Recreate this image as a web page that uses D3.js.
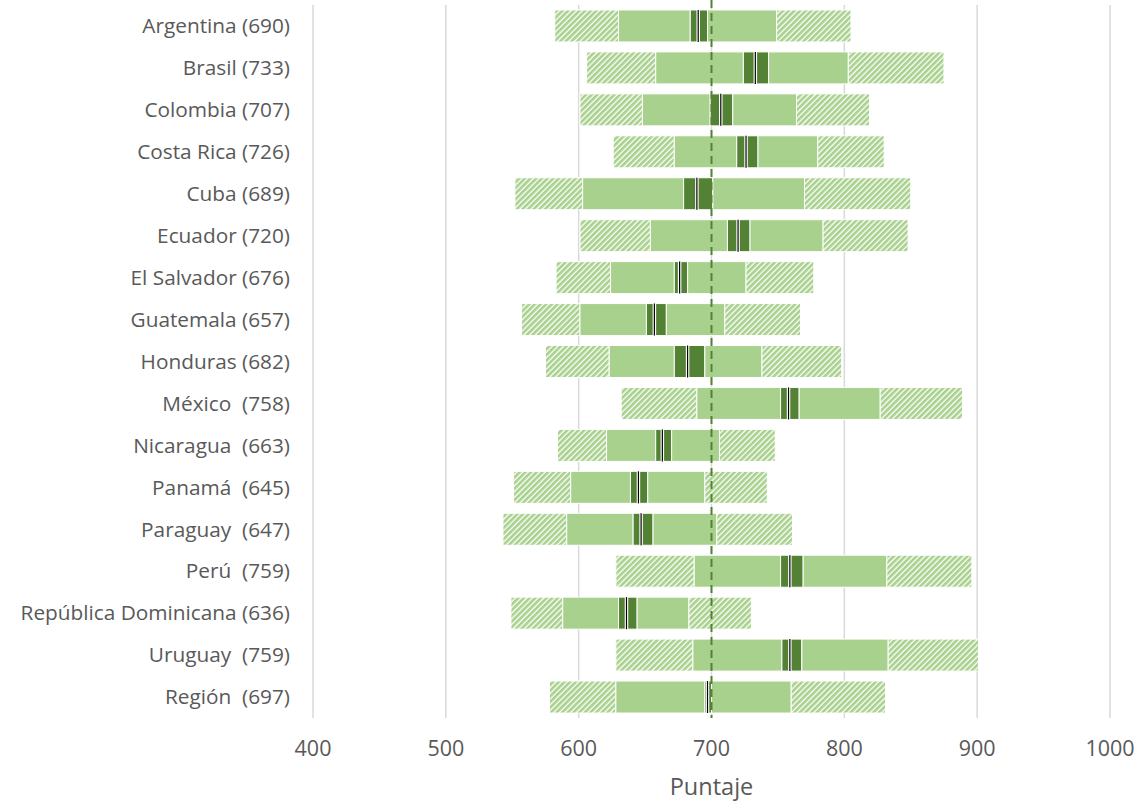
<!DOCTYPE html>
<html>
<head>
<meta charset="utf-8">
<script src="https://cdn.jsdelivr.net/npm/d3@7"></script>
<style>
  html, body { margin: 0; padding: 0; background: #fff; }
  svg { display: block; }
  text { font-family: "Open Sans", "Noto Sans", sans-serif; }
</style>
</head>
<body>
<svg id="chart" width="1138" height="801"></svg>
<script>
const countries = ["Argentina (690)", "Brasil (733)", "Colombia (707)", "Costa Rica (726)", "Cuba (689)",
  "Ecuador (720)", "El Salvador (676)", "Guatemala (657)", "Honduras (682)", "México  (758)",
  "Nicaragua  (663)", "Panamá  (645)", "Paraguay  (647)", "Perú  (759)", "República Dominicana (636)",
  "Uruguay  (759)", "Región  (697)"];
const p10    = [582, 606, 601, 626, 552, 601, 583, 557, 575, 632, 584, 551, 543, 628, 549, 628, 578];
const p25    = [630, 658, 648, 672, 603, 654, 624, 601, 623, 689, 621, 594, 591, 687, 588, 686, 628];
const ciLow  = [684, 724, 699, 719, 679, 712, 672, 651, 672, 752, 658, 639, 641, 752, 630, 753, 695];
const means  = [690, 733, 707, 726, 689, 720, 676, 657, 682, 758, 663, 645, 647, 759, 636, 759, 697];
const ciHigh = [697, 743, 716, 735, 701, 729, 682, 666, 695, 766, 670, 652, 656, 769, 644, 768, 700];
const p75    = [749, 803, 764, 780, 770, 784, 726, 710, 738, 827, 706, 695, 704, 832, 683, 833, 760];
const p90    = [805, 875, 819, 830, 850, 848, 777, 767, 798, 889, 748, 742, 761, 896, 730, 901, 831];
const xTicks = [400, 500, 600, 700, 800, 900, 1000];
const refValue = 700;
const axisTitle = "Puntaje";

const light = "#A9D18E", dark = "#548235", textCol = "#595959";

const svg = d3.select("#chart");
const defs = svg.append("defs");
const pat = defs.append("pattern").attr("id", "hatch").attr("patternUnits", "userSpaceOnUse")
  .attr("width", 4).attr("height", 4).attr("patternTransform", "rotate(45)");
pat.append("rect").attr("width", 4).attr("height", 4).attr("fill", "#fff");
pat.append("rect").attr("width", 2.7).attr("height", 4).attr("fill", light);

const x = d3.scaleLinear().domain([400, 1000]).range([313, 1110]);
const y = d3.scaleBand().domain(countries).range([5, 718]).paddingInner(0.237).paddingOuter(0.1185);

// gridlines
svg.append("g").selectAll("line").data(xTicks).join("line")
  .attr("x1", d => x(d)).attr("x2", d => x(d)).attr("y1", 5).attr("y2", 718)
  .attr("stroke", "#d9d9d9").attr("stroke-width", 1.5);

const rows = countries.map((c, i) => ({c, p10: p10[i], p25: p25[i], lo: ciLow[i], m: means[i], hi: ciHigh[i], p75: p75[i], p90: p90[i]}));

const segs = [];
rows.forEach(r => {
  segs.push({c: r.c, a: r.p10, b: r.p25, fill: "url(#hatch)"});
  segs.push({c: r.c, a: r.p25, b: r.lo, fill: light});
  segs.push({c: r.c, a: r.lo, b: r.hi, fill: dark});
  segs.push({c: r.c, a: r.hi, b: r.p75, fill: light});
  segs.push({c: r.c, a: r.p75, b: r.p90, fill: "url(#hatch)"});
});

svg.append("g").selectAll("rect").data(segs).join("rect")
  .attr("x", d => x(d.a)).attr("width", d => x(d.b) - x(d.a))
  .attr("y", d => y(d.c)).attr("height", y.bandwidth())
  .attr("fill", d => d.fill).attr("stroke", "#fff").attr("stroke-width", 1);

// mean markers
const mg = svg.append("g");
mg.selectAll("line.w").data(rows).join("line").attr("class", "w")
  .attr("x1", d => x(d.m)).attr("x2", d => x(d.m))
  .attr("y1", d => y(d.c)).attr("y2", d => y(d.c) + y.bandwidth())
  .attr("stroke", "#fff").attr("stroke-width", 3.5);
mg.selectAll("line.b").data(rows).join("line").attr("class", "b")
  .attr("x1", d => x(d.m)).attr("x2", d => x(d.m))
  .attr("y1", d => y(d.c)).attr("y2", d => y(d.c) + y.bandwidth())
  .attr("stroke", "#000").attr("stroke-width", 1.2);

// reference dashed line
svg.append("line").attr("x1", x(refValue)).attr("x2", x(refValue)).attr("y1", 0).attr("y2", 718)
  .attr("stroke", dark).attr("stroke-width", 2).attr("stroke-dasharray", "8,5");

// category labels
svg.append("g").selectAll("text").data(countries).join("text")
  .attr("x", 290).attr("y", d => y(d) + y.bandwidth() / 2).attr("dy", "0.35em")
  .attr("text-anchor", "end").attr("fill", textCol).attr("font-size", 20.8)
  .style("white-space", "pre").text(d => d);

// x tick labels
svg.append("g").selectAll("text").data(xTicks).join("text")
  .attr("x", d => x(d)).attr("y", 748).attr("dy", "0.35em")
  .attr("text-anchor", "middle").attr("fill", textCol).attr("font-size", 21.5).text(d => d);

svg.append("text").attr("x", x(700)).attr("y", 787).attr("dy", "0.35em")
  .attr("text-anchor", "middle").attr("fill", textCol).attr("font-size", 23.5).text(axisTitle);
</script>
</body>
</html>
